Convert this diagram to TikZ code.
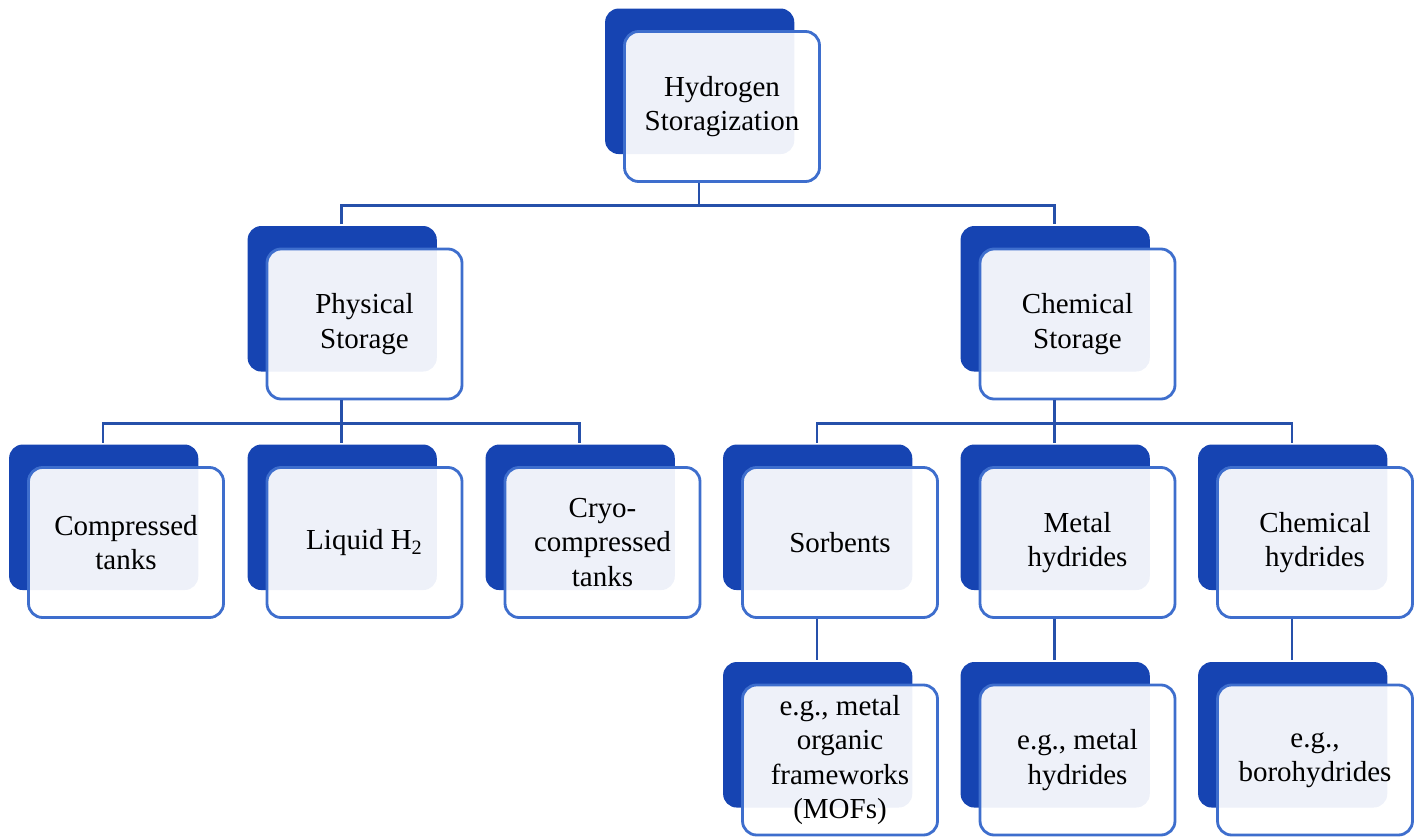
\documentclass[tikz,border=0pt]{standalone}
\usepackage{fontspec}
\setmainfont{Liberation Serif}
\usetikzlibrary{shadows}
\definecolor{deepblue}{RGB}{22,68,178}
\definecolor{rimblue}{RGB}{62,110,205}
\definecolor{wireblue}{RGB}{38,80,170}
\tikzset{
  card/.style={draw=rimblue, line width=1.6pt, rounded corners=8pt, fill=white,
    fill opacity=0.93, text opacity=1, minimum width=3.9cm, minimum height=3.0cm,
    align=center, font=\rmfamily\fontsize{16.5}{19.5}\selectfont,
    general shadow={draw=none, fill=deepblue, fill opacity=1,
      shadow xshift=-0.46cm, shadow yshift=0.52cm, shadow scale=0.97}},
  wire/.style={draw=wireblue, line width=1.6pt}
}
\begin{document}
\begin{tikzpicture}
  \useasboundingbox (0,0) rectangle (28.4,16.76);
  % boxes
  \foreach \n/\x/\y/\t in {top/14.44/14.63/{Hydrogen\\Storagization},
      phys/7.29/10.28/{Physical\\Storage}, chem/21.55/10.28/{Chemical\\Storage},
      comp/2.52/5.91/{Compressed\\tanks}, liq/7.29/5.91/{Liquid H\textsubscript{2}},
      cryo/12.05/5.91/{Cryo-\\compressed\\tanks},
      sorb/16.8/5.91/{Sorbents}, metal/21.55/5.91/{Metal\\hydrides},
      chyd/26.3/5.91/{Chemical\\hydrides},
      mof/16.8/1.56/{e.g., metal\\organic\\frameworks\\(MOFs)},
      mh/21.55/1.56/{e.g., metal\\hydrides}, bh/26.3/1.56/{e.g.,\\borohydrides}}
    \node[card] (\n) at (\x,\y) {\t};
  % connectors
  \draw[wire] ([xshift=-4.6mm]top.south) -- ++(0,-0.45) coordinate (bus1);
  \draw[wire] ([shift={(-4.6mm,4.7mm)}]phys.north) |- (bus1) -| ([shift={(-4.6mm,4.7mm)}]chem.north);
  \draw[wire] ([xshift=-4.6mm]phys.south) -- ([shift={(-4.6mm,4.7mm)}]liq.north);
  \draw[wire] ([shift={(-4.6mm,4.7mm)}]comp.north) |- ([shift={(-4.6mm,-4.6mm)}]phys.south) -| ([shift={(-4.6mm,4.7mm)}]cryo.north);
  \draw[wire] ([xshift=-4.6mm]chem.south) -- ([shift={(-4.6mm,4.7mm)}]metal.north);
  \draw[wire] ([shift={(-4.6mm,4.7mm)}]sorb.north) |- ([shift={(-4.6mm,-4.6mm)}]chem.south) -| ([shift={(-4.6mm,4.7mm)}]chyd.north);
  \foreach \a/\b in {sorb/mof, metal/mh, chyd/bh}
    \draw[wire] ([xshift=-4.6mm]\a.south) -- ([shift={(-4.6mm,4.7mm)}]\b.north);
\end{tikzpicture}
\end{document}
